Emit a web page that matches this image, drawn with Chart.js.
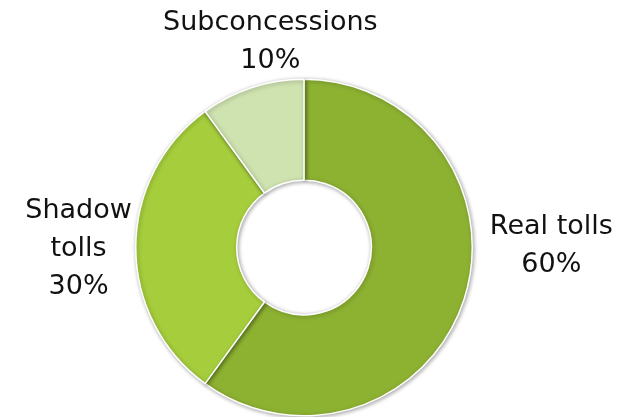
<!DOCTYPE html>
<html>
<head>
    <title>Toll types</title>
    <script src="https://cdn.jsdelivr.net/npm/chart.js"></script>
    <style>
        body { margin: 0; background: #fff; }
        #wrap { width: 620px; height: 417px; }
    </style>
</head>
<body>
    <div id="wrap"><canvas id="toll-chart" width="620" height="417"></canvas></div>

    <script>
        // data
        const categories = ['Real tolls', 'Shadow tolls', 'Subconcessions'];
        const shares = [60, 30, 10];
        const labelLines = [['Real tolls', '60%'], ['Shadow', 'tolls', '30%'], ['Subconcessions', '10%']];
        const sliceColors = ['#8db232', '#a6ce3c', '#cfe3b1'];

        // where each label sits, relative to the ring centre in units of the outer radius
        const labelAnchors = [[1.47, -0.01], [-1.34, 0.01], [-0.2, -1.22]];

        // soft shadow behind the ring
        const ringShadow = {
            id: 'ringShadow',
            beforeDatasetsDraw(chart) {
                const c = chart.ctx;
                c.save();
                c.shadowColor = 'rgba(0,0,0,0.35)';
                c.shadowBlur = 4;
                c.shadowOffsetX = 1;
                c.shadowOffsetY = 1;
            },
            afterDatasetsDraw(chart) {
                chart.ctx.restore();
            }
        };

        // text labels around the ring
        const sliceLabels = {
            id: 'sliceLabels',
            afterDraw(chart) {
                const arc = chart.getDatasetMeta(0).data[0];
                const cx = arc.x, cy = arc.y, r = arc.outerRadius;
                const c = chart.ctx;
                c.save();
                c.font = '27px "DejaVu Sans"';
                c.fillStyle = '#111';
                c.textAlign = 'center';
                c.textBaseline = 'middle';
                const lineH = 38;
                labelLines.forEach((lines, i) => {
                    const x = cx + labelAnchors[i][0] * r;
                    const y = cy + labelAnchors[i][1] * r;
                    const top = y - (lines.length - 1) * lineH / 2;
                    lines.forEach((t, j) => c.fillText(t, x, top + j * lineH));
                });
                c.restore();
            }
        };

        new Chart(document.getElementById('toll-chart'), {
            type: 'doughnut',
            data: {
                labels: categories,
                datasets: [{
                    data: shares,
                    backgroundColor: sliceColors,
                    borderColor: '#ffffff',
                    borderWidth: 1.5,
                }],
            },
            options: {
                responsive: false,
                animation: false,
                cutout: '40%',
                layout: { padding: { top: 78, bottom: 0, left: 135, right: 147 } },
                plugins: {
                    legend: { display: false },
                    tooltip: { enabled: false },
                },
            },
            plugins: [ringShadow, sliceLabels],
        });
    </script>
</body>
</html>
